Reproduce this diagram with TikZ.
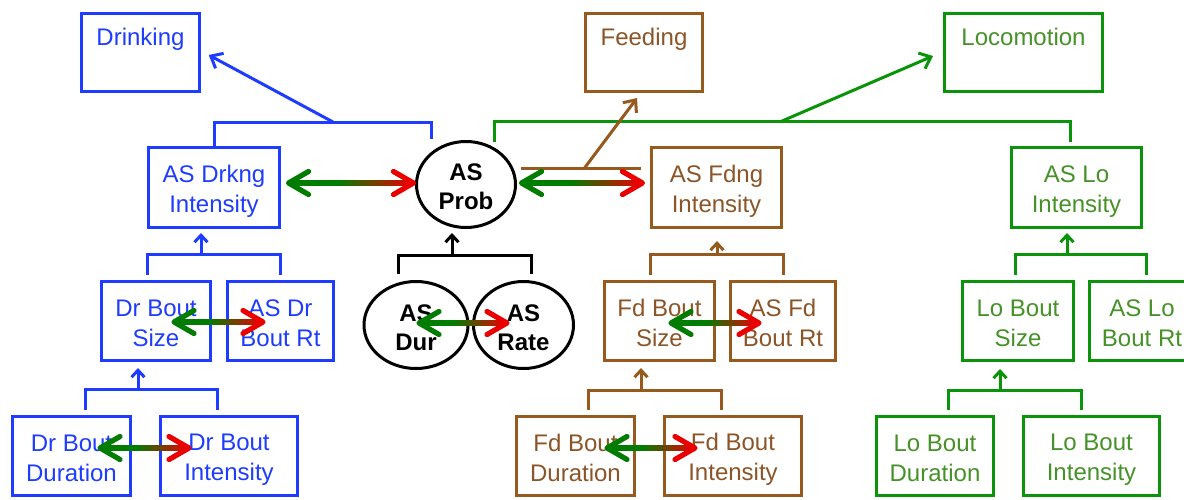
\documentclass[tikz,border=0pt]{standalone}
\usepackage{fontspec}
\setmainfont{Liberation Sans}
\usetikzlibrary{arrows.meta,calc,shapes.geometric}

\definecolor{cblue}{RGB}{30,60,255}
\definecolor{cbrown}{RGB}{150,90,30}
\definecolor{tbrown}{RGB}{140,85,40}
\definecolor{cgreen}{RGB}{10,148,10}
\definecolor{tgreen}{RGB}{70,145,40}
\definecolor{agreen}{RGB}{0,125,0}
\definecolor{amid}{RGB}{135,60,0}
\definecolor{ared}{RGB}{235,0,0}

% two-line label with fixed line metrics
\newcommand\two[2]{\rule{0pt}{24pt}#1\\#2\rule[-3pt]{0pt}{3pt}}

% green-to-red double-headed arrow between two tips
\newcommand\dbl[2]{%
  \path #1 coordinate (dA) #2 coordinate (dB);
  \coordinate (dM) at ($(dA)!0.4!(dB)$);
  \fill[agreen] ($(dA)+(2,-2.6)$) rectangle ($(dM)+(0.5,2.6)$);
  \shade[left color=agreen, middle color=amid, right color=ared]
    ($(dM)+(0,-2.6)$) rectangle ($(dB)+(-2,2.6)$);
  \draw[agreen, line width=5.2pt, line cap=round, line join=round]
    ($(dA)+(20,-11.5)$) -- (dA) -- ($(dA)+(20,11.5)$);
  \draw[ared, line width=5.2pt, line cap=round, line join=round]
    ($(dB)+(-20,-11.5)$) -- (dB) -- ($(dB)+(-20,11.5)$);
}

\tikzset{
  box/.style={draw, rectangle, line width=3pt, inner sep=0pt, align=center,
    font=\fontsize{24}{30}\selectfont},
  bbox/.style={box, draw=cblue, text=cblue},
  fbox/.style={box, draw=cbrown, text=tbrown},
  gbox/.style={box, draw=cgreen, text=tgreen},
  circ/.style={ellipse, draw=black, line width=3pt, inner sep=0pt, align=center,
    font=\bfseries\fontsize{24}{29}\selectfont},
  toplbl/.style={anchor=base, yshift=-33.2pt, font=\fontsize{24}{30}\selectfont},
  link/.style={line width=3pt},
  up/.style={-{Straight Barb[length=7pt,width=13pt]}},
  far/.style={-{Straight Barb[length=10pt,width=17pt]}},
}

\begin{document}
\begin{tikzpicture}[x=1pt,y=-1pt]
\fill[white] (0,0) rectangle (1184,499);
\useasboundingbox (0,0) rectangle (1184,499);

% behaviour boxes
\node[bbox, minimum width=117.5, minimum height=78,
  label={[toplbl, text=cblue]north:Drinking}] (dr) at (140.5,52.5) {};
\node[fbox, minimum width=117, minimum height=78,
  label={[toplbl, text=tbrown]north:Feeding}] (fe) at (644,52.5) {};
\node[gbox, minimum width=158, minimum height=78,
  label={[toplbl, text=tgreen]north:Locomotion}] (lo) at (1023.5,52.5) {};

% intensity level
\node[bbox, minimum width=131, minimum height=80] (asdi) at (214,187.5) {\two{AS Drkng}{Intensity}};
\node[circ, minimum width=99, minimum height=86] (prob) at (466,184.5) {\two{AS}{Prob}};
\node[fbox, minimum width=130, minimum height=80] (asfi) at (716.5,187.5) {\two{AS Fdng}{Intensity}};
\node[gbox, minimum width=130, minimum height=80] (asli) at (1076.5,187.5) {\two{AS Lo}{Intensity}};

% bout size / rate level
\node[bbox, minimum width=109, minimum height=79] (drbs) at (156,321) {\two{Dr Bout}{Size}};
\node[bbox, minimum width=106, minimum height=79] (asdr) at (280.5,321) {\two{AS Dr}{Bout Rt}};
\node[circ, minimum width=104, minimum height=87] (dur) at (416,325) {\two{AS}{Dur}};
\node[circ, minimum width=100, minimum height=87] (rate) at (523.5,325) {\two{AS}{Rate}};
\node[fbox, minimum width=110, minimum height=79] (fdbs) at (659.5,321) {\two{Fd Bout}{Size}};
\node[fbox, minimum width=105, minimum height=79] (asfd) at (783,321) {\two{AS Fd}{Bout Rt}};
\node[gbox, minimum width=111, minimum height=79] (lobs) at (1018,321) {\two{Lo Bout}{Size}};
\node[gbox, minimum width=105, minimum height=79] (aslo) at (1142,321) {\two{AS Lo}{Bout Rt}};

% bout duration / intensity level
\node[bbox, minimum width=118, minimum height=79] (drbd) at (71.5,456) {\two{Dr Bout}{Duration}};
\node[bbox, minimum width=137, minimum height=79] (drbi) at (229,456) {\two{Dr Bout}{Intensity}};
\node[fbox, minimum width=118, minimum height=79] (fdbd) at (575.5,456) {\two{Fd Bout}{Duration}};
\node[fbox, minimum width=137, minimum height=79] (fdbi) at (733,456) {\two{Fd Bout}{Intensity}};
\node[gbox, minimum width=117, minimum height=79] (lobd) at (935,456) {\two{Lo Bout}{Duration}};
\node[gbox, minimum width=136, minimum height=79] (lobi) at (1091.5,456) {\two{Lo Bout}{Intensity}};

% top brackets
\draw[link, cblue] (asdi.north) -- ++(0,-24) -| ($(prob.north)+(-35,-1)$);
\coordinate (jdr) at ($(asdi.north)+(119,-24)$);
\draw[link, cblue, far] (jdr) -- ($(dr.east)+(8,2.5)$);

\draw[link, cgreen] ($(prob.north)+(28,1.5)$) |- ($(asli.north)+(-6.5,-25)$) -- ($(asli.north)+(-6.5,-4.5)$);
\coordinate (jlo) at ($(asli.north)+(-294.5,-25)$);
\draw[link, cgreen, far] (jlo) -- ($(lo.west)+(-10,3.5)$);

\draw[link, cbrown] ($(prob.east)+(4,-16.5)$) -- ($(asfi.west)+(-9,-19.5)$);
\coordinate (jfe) at ($(asfi.west)+(-65.5,-19.5)$);
\draw[link, cbrown, far] (jfe) -- ($(fe.south)+(-7,5)$);

% middle brackets
\draw[link, cblue] ($(drbs.north)+(-9,-5)$) |- ($(asdr.north)+(0,-26)$) -- ($(asdr.north)+(0,-5)$);
\coordinate (j2b) at ($(asdr.north)+(-79.5,-26)$);
\draw[link, cblue, up] (j2b) -- ($(asdi.south)+(-13,4)$);

\draw[link] ($(dur.north)+(-18,-6.5)$) |- ($(rate.north)+(7.5,-24.5)$) -- ($(rate.north)+(7.5,-6.5)$);
\coordinate (j2k) at ($(rate.north)+(-71.5,-24.5)$);
\draw[link, up] (j2k) -- ($(prob.south)+(-14,4)$);

\draw[link, cbrown] ($(fdbs.north)+(-9.5,-5)$) |- ($(asfd.north)+(0,-25.5)$) -- ($(asfd.north)+(0,-5)$);
\coordinate (j2f) at ($(asfd.north)+(-66,-25.5)$);
\draw[link, cbrown, up] (j2f) -- ($(asfi.south)+(0.5,12)$);

\draw[link, cgreen] ($(lobs.north)+(-3,-5)$) |- ($(aslo.north)+(4,-26)$) -- ($(aslo.north)+(4,-5)$);
\coordinate (j2g) at ($(aslo.north)+(-75,-26)$);
\draw[link, cgreen, up] (j2g) -- ($(asli.south)+(-9.5,4)$);

% bottom brackets
\draw[link, cblue] ($(drbd.north)+(13.5,-5)$) |- ($(drbi.north)+(-12,-26)$) -- ($(drbi.north)+(-12,-5)$);
\coordinate (j3b) at ($(drbi.north)+(-91,-26)$);
\draw[link, cblue, up] (j3b) -- ($(drbs.south)+(-18,6)$);

\draw[link, cbrown] ($(fdbd.north)+(12.5,-5)$) |- ($(fdbi.north)+(-12,-24.5)$) -- ($(fdbi.north)+(-12,-5)$);
\coordinate (j3f) at ($(fdbi.north)+(-92,-24.5)$);
\draw[link, cbrown, up] (j3f) -- ($(fdbs.south)+(-18.5,6)$);

\draw[link, cgreen] ($(lobd.north)+(13,-5)$) |- ($(lobi.north)+(-10.5,-24.5)$) -- ($(lobi.north)+(-10.5,-5)$);
\coordinate (j3g) at ($(lobi.north)+(-91.5,-24.5)$);
\draw[link, cgreen, up] (j3g) -- ($(lobs.south)+(-18,7)$);

% reciprocal links
\dbl{($(asdi.east)+(7.5,-4.5)$)}{($(prob.west)+(-1.5,-1.5)$)}
\dbl{($(prob.east)+(4.5,-1.5)$)}{($(asfi.west)+(-7.5,-4.5)$)}
\dbl{($(drbs.center)+(18,1)$)}{($(asdr.center)+(-17.5,1)$)}
\dbl{($(dur.center)+(3,-2)$)}{($(rate.center)+(-16.5,-2)$)}
\dbl{($(fdbs.center)+(11.5,2)$)}{($(asfd.center)+(-24,2)$)}
\dbl{($(drbd.center)+(28.5,-8)$)}{($(drbi.center)+(-40,-8)$)}
\dbl{($(fdbd.center)+(31.5,-8)$)}{($(fdbi.center)+(-38,-8)$)}
\end{tikzpicture}
\end{document}
